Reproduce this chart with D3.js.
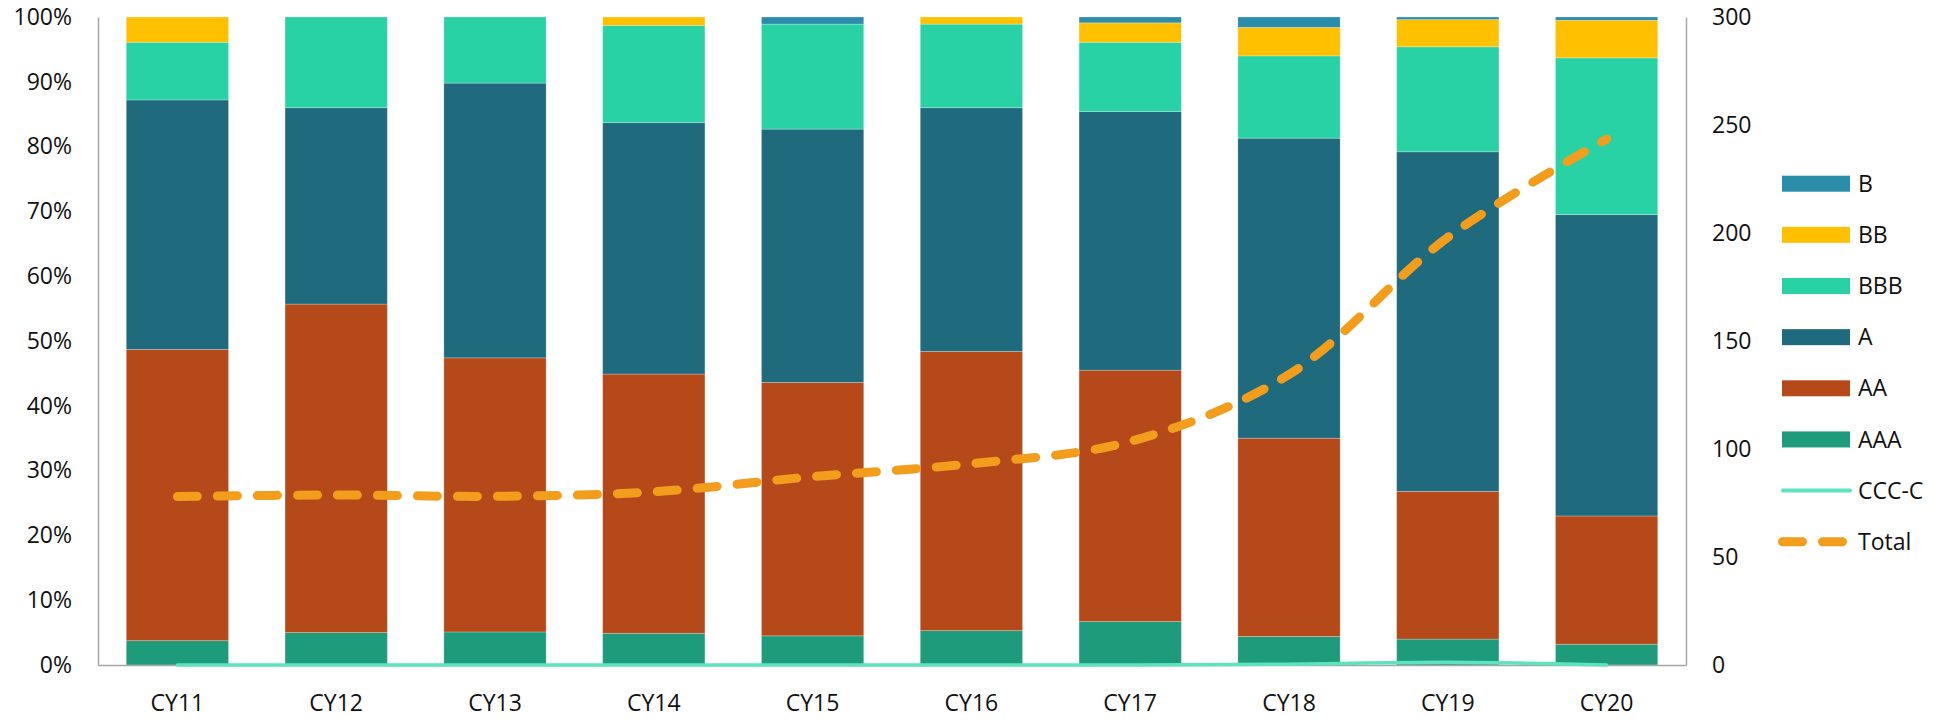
<!DOCTYPE html>
<html>
<head>
<meta charset="utf-8">
<script src="https://cdn.jsdelivr.net/npm/d3@7/dist/d3.min.js"></script>
<style>
  html, body { margin: 0; padding: 0; background: #fff; }
  svg { display: block; }
  text { font-family: "Open Sans", "Noto Sans", sans-serif; fill: #111; }
</style>
</head>
<body>
<svg id="chart" width="1946" height="722"></svg>
<script>
// Calendar years
const categories = ["CY11", "CY12", "CY13", "CY14", "CY15", "CY16", "CY17", "CY18", "CY19", "CY20"];

// Share of each rating bucket (% of total), stacked bottom to top
const AAA = [3.75, 5.0, 5.1, 4.9, 4.5, 5.3, 6.7, 4.4, 4.0, 3.2];
const AA  = [44.95, 50.7, 42.3, 40.0, 39.1, 43.1, 38.8, 30.6, 22.8, 19.8];
const A   = [38.5, 30.3, 42.4, 38.8, 39.1, 37.6, 39.9, 46.3, 52.4, 46.5];
const BBB = [8.9, 14.0, 10.2, 15.0, 16.2, 12.9, 10.7, 12.7, 16.2, 24.2];
const BB  = [3.9, 0, 0, 1.3, 0, 1.1, 3.0, 4.4, 4.2, 5.8];
const B   = [0, 0, 0, 0, 1.1, 0, 0.9, 1.6, 0.4, 0.5];

// Counts on the secondary axis
const CCC_C = [0, 0, 0, 0, 0, 0, 0, 0.4, 1.3, 0];
const Total = [78, 78.7, 78.1, 80.2, 87.2, 93.2, 103.5, 134.5, 198, 243.5];

// Axis ticks
const leftTicks = [0, 10, 20, 30, 40, 50, 60, 70, 80, 90, 100];
const rightTicks = [0, 50, 100, 150, 200, 250, 300];

const stackKeys = ["AAA", "AA", "A", "BBB", "BB", "B"];
const seriesByKey = { AAA, AA, A, BBB, BB, B };
const colors = {
  AAA: "#1e9b7b",
  AA: "#b5491a",
  A: "#206a7e",
  BBB: "#29d2a5",
  BB: "#ffc000",
  B: "#2a8da9",
  "CCC-C": "#5de3c0",
  Total: "#f29d1c"
};
const legendOrder = ["B", "BB", "BBB", "A", "AA", "AAA", "CCC-C", "Total"];

const svg = d3.select("#chart");
const margin = { top: 17, right: 260, bottom: 57, left: 98 };
const W = 1946, H = 722;
const innerW = W - margin.left - margin.right;
const innerH = H - margin.top - margin.bottom;

const g = svg.append("g").attr("transform", `translate(${margin.left},${margin.top})`);

const x = d3.scaleBand().domain(categories).range([0, innerW])
  .paddingInner(0.356).paddingOuter(0.178);
const yL = d3.scaleLinear().domain([0, 100]).range([innerH, 0]);
const yR = d3.scaleLinear().domain([0, 300]).range([innerH, 0]);

// Stacked bars
const rows = categories.map((c, i) => {
  const r = { cat: c };
  stackKeys.forEach(k => { r[k] = seriesByKey[k][i]; });
  return r;
});
const stacked = d3.stack().keys(stackKeys)(rows);

g.append("g").selectAll("g")
  .data(stacked)
  .join("g")
  .attr("fill", d => colors[d.key])
  .selectAll("rect")
  .data(d => d.filter(p => p[1] - p[0] > 0))
  .join("rect")
  .attr("x", d => x(d.data.cat))
  .attr("width", x.bandwidth())
  .attr("y", d => yL(d[1]))
  .attr("height", d => yL(d[0]) - yL(d[1]))
  .attr("stroke", "rgba(255,255,255,0.3)")
  .attr("stroke-width", 0.8);

// Axes
const axisColor = "#a6a6a6";
const fontSize = "23px";

const leftAxis = g.append("g")
  .call(d3.axisLeft(yL).tickValues(leftTicks).tickFormat(d => d + "%").tickSize(0).tickPadding(26));
const rightAxis = g.append("g").attr("transform", `translate(${innerW},0)`)
  .call(d3.axisRight(yR).tickValues(rightTicks).tickSize(0).tickPadding(26));
const bottomAxis = g.append("g").attr("transform", `translate(0,${innerH})`)
  .call(d3.axisBottom(x).tickSize(0).tickPadding(30));

[leftAxis, rightAxis, bottomAxis].forEach(a => {
  a.select(".domain").attr("stroke", axisColor).attr("stroke-width", 1.5);
  a.selectAll("text").style("font-size", fontSize).attr("fill", "#111");
});

// Lines on the secondary axis
const cx = c => x(c) + x.bandwidth() / 2;
const lineGen = d3.line()
  .x((d, i) => cx(categories[i]))
  .y(d => yR(d))
  .curve(d3.curveCatmullRom.alpha(0.5));

g.append("path")
  .datum(CCC_C)
  .attr("d", lineGen)
  .attr("fill", "none")
  .attr("stroke", colors["CCC-C"])
  .attr("stroke-width", 3.5)
  .attr("stroke-linecap", "round");

g.append("path")
  .datum(Total)
  .attr("d", lineGen)
  .attr("fill", "none")
  .attr("stroke", colors.Total)
  .attr("stroke-width", 9)
  .attr("stroke-linecap", "round")
  .attr("stroke-dasharray", "20 20");

// Legend
const legend = svg.append("g").attr("transform", "translate(1782,183.7)");
const item = legend.selectAll("g")
  .data(legendOrder)
  .join("g")
  .attr("transform", (d, i) => `translate(0,${i * 51.15})`);

item.each(function (k) {
  const s = d3.select(this);
  if (k === "CCC-C") {
    s.append("line").attr("x1", 1).attr("x2", 68).attr("y1", 0).attr("y2", 0)
      .attr("stroke", colors[k]).attr("stroke-width", 4).attr("stroke-linecap", "round");
  } else if (k === "Total") {
    s.append("line").attr("x1", 0.5).attr("x2", 60.5).attr("y1", 0).attr("y2", 0)
      .attr("stroke", colors[k]).attr("stroke-width", 9).attr("stroke-linecap", "round")
      .attr("stroke-dasharray", "20 20");
  } else {
    s.append("rect").attr("x", 0).attr("y", -8).attr("width", 68).attr("height", 16)
      .attr("fill", colors[k]);
  }
  s.append("text").attr("x", 76).attr("y", 0).attr("dy", "0.35em")
    .style("font-size", fontSize).text(k);
});
</script>
</body>
</html>
